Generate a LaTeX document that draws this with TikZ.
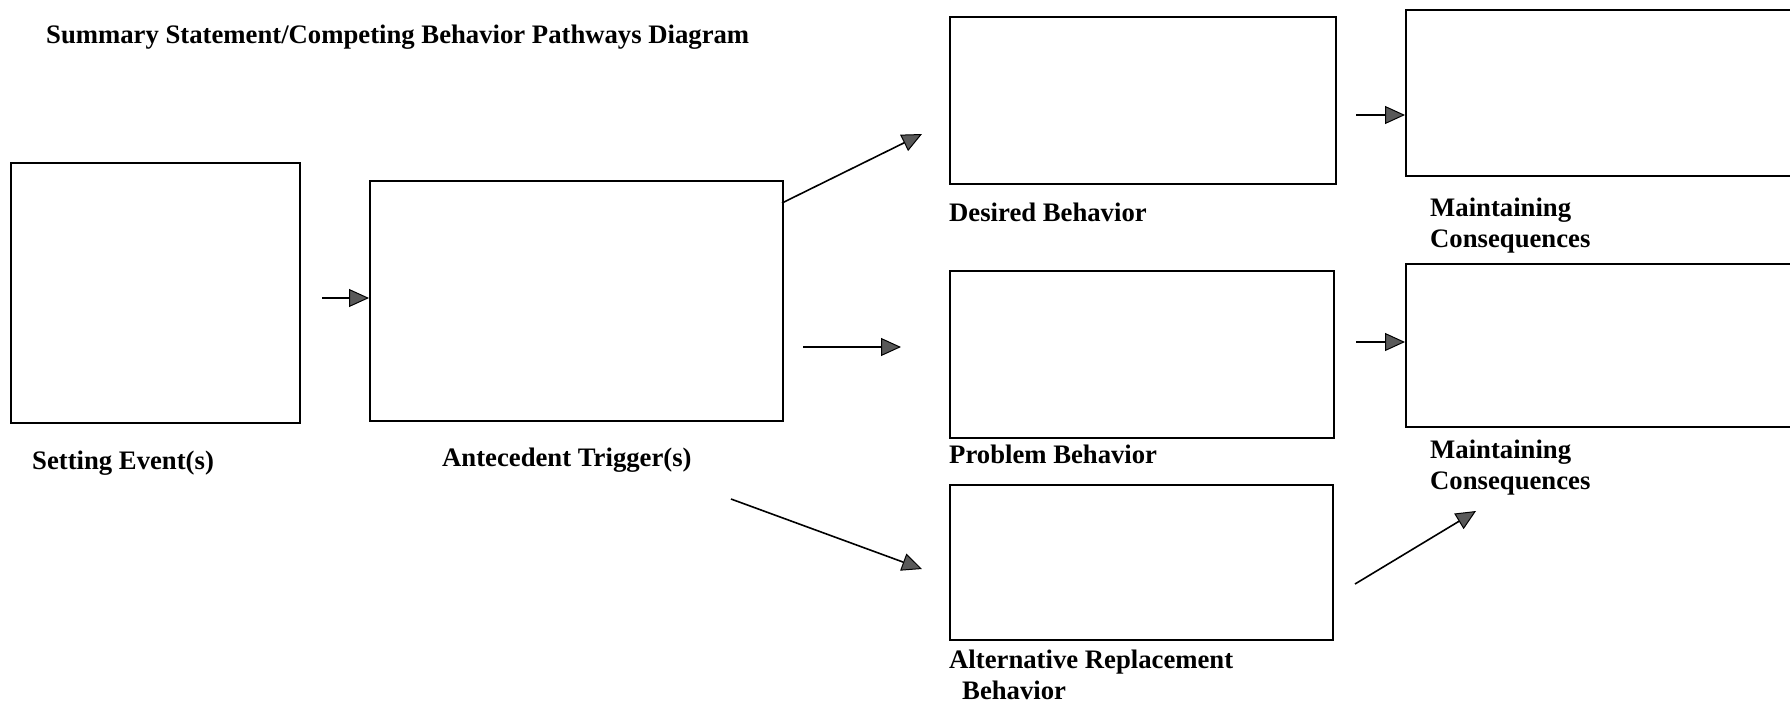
\documentclass[tikz,border=0pt]{standalone}
\usepackage{fontspec}
\setmainfont{Liberation Serif}
\usetikzlibrary{arrows.meta}
\tikzset{
  box/.style={draw=black, line width=2pt, inner sep=0pt, anchor=north west, fill=white},
  lbl/.style={inner sep=0pt, anchor=west, font=\fontsize{26.7}{31}\selectfont\bfseries},
  lbltwo/.style={inner sep=0pt, anchor=north west, align=left, font=\fontsize{26.7}{31}\selectfont\bfseries},
  arr/.style={draw=black, line width=1.6pt,
    -{Triangle[length=20pt,width=18pt,fill=black!65,line width=1pt]}},
}
\begin{document}
\begin{tikzpicture}[x=1pt,y=-1pt]
\useasboundingbox[fill=white] (0,0) rectangle (1790,707);
% title
\node[lbl] (title) at (46,37) {Summary Statement/Competing Behavior Pathways Diagram};
% boxes
\node[box, minimum width=289pt, minimum height=260pt] (setE) at (10,162) {};
\node[box, minimum width=413pt, minimum height=240pt] (ante) at (369,180) {};
\node[box, minimum width=386pt, minimum height=167pt] (des) at (949,16) {};
\node[box, minimum width=420pt, minimum height=166pt] (mc1) at (1405,9) {};
\node[box, minimum width=384pt, minimum height=167pt] (prob) at (949,270) {};
\node[box, minimum width=420pt, minimum height=163pt] (mc2) at (1405,263) {};
\node[box, minimum width=383pt, minimum height=155pt] (alt) at (949,484) {};
% labels
\node[lbl] (setL) at (32,463) {Setting Event(s)};
\node[lbl] (anteL) at (442,460) {Antecedent Trigger(s)};
\node[lbl] (desL) at (949,212) {Desired Behavior};
\node[lbl] (probL) at (949,454) {Problem Behavior};
\node[lbltwo] (mc1L) at (1430,198) {Maintaining\\Consequences};
\node[lbltwo] (mc2L) at (1430,440) {Maintaining\\Consequences};
\node[lbltwo] (altL) at (949,650) {Alternative Replacement\\\hspace{13pt}Behavior};
% connector end points
\coordinate (s1) at (322,298);
\coordinate (s2) at (782,203);
\coordinate (e2) at (922,134);
\coordinate (s3) at (803,347);
\coordinate (e3) at (901,347);
\coordinate (s4) at (731,499);
\coordinate (e4) at (922,569);
\coordinate (s5) at (1356,115);
\coordinate (s6) at (1356,342);
\coordinate (s7) at (1355,584);
\coordinate (e7) at (1476,511);
% connectors
\draw[arr] (s1) -- (ante.west |- s1);
\draw[arr] (s2) -- (e2);
\draw[arr] (s3) -- (e3);
\draw[arr] (s4) -- (e4);
\draw[arr] (s5) -- (mc1.west |- s5);
\draw[arr] (s6) -- (mc2.west |- s6);
\draw[arr] (s7) -- (e7);
\end{tikzpicture}
\end{document}
